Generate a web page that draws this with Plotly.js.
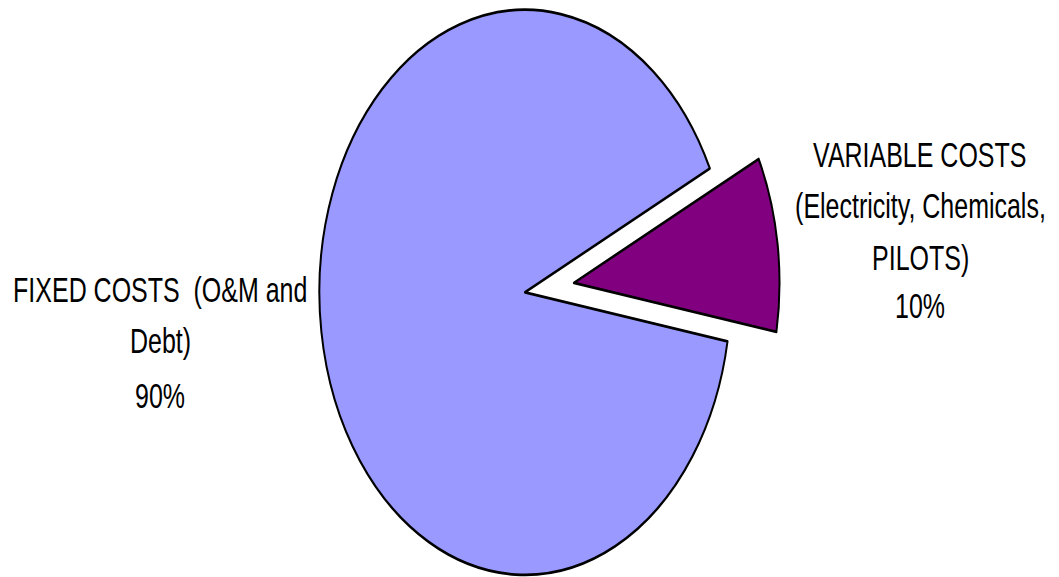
<!DOCTYPE html>
<html>
<head>
<meta charset="utf-8">
<script src="https://cdn.plot.ly/plotly-3.0.1.min.js"></script>
<style>
  html, body { margin:0; padding:0; width:1059px; height:577px; overflow:hidden; background:#ffffff; }
  #wrap { position:absolute; left:0; top:-57.6px; width:1059px; height:510px;
          transform: scaleY(1.3738); transform-origin: 0 0; }
</style>
</head>
<body>
<div id="wrap"></div>
<script>
// ---- data ----
const categories = ["VARIABLE COSTS (Electricity, Chemicals, PILOTS)", "FIXED COSTS (O&M and Debt)"];
const values = [10, 90];
const labelLines = [
  ["VARIABLE COSTS", "(Electricity, Chemicals,", "PILOTS)"],
  ["FIXED COSTS  (O&M and", "Debt)"]
];
const sliceColors = ["#800080", "#9999FF"];
const pulls = [0.24, 0];

// ---- layout helpers (positions of the label blocks, in paper units) ----
const labelX = [0.8688, 0.1511];
const labelY = [
  [0.6965, 0.6238, 0.5496, 0.4796],
  [0.5031, 0.4312, 0.3533]
];

const total = values.reduce((a, b) => a + b, 0);
const annotations = [];
labelLines.forEach((lines, i) => {
  const pct = Math.round(values[i] / total * 100) + "%";
  const all = lines.concat([pct]);
  all.forEach((t, j) => {
    annotations.push({
      xref: "paper", yref: "paper", x: labelX[i], y: labelY[i][j],
      xanchor: "center", yanchor: "middle", showarrow: false, text: t,
      font: {family: "Liberation Sans, Arial, sans-serif", size: 25, color: "#000000"}
    });
  });
});

const trace = {
  type: "pie",
  labels: categories,
  values: values,
  sort: false,
  direction: "clockwise",
  rotation: 64,
  pull: pulls,
  textinfo: "none",
  hoverinfo: "skip",
  marker: {colors: sliceColors, line: {color: "#000000", width: 2}},
  domain: {x: [0.25, 0.7415], y: [0, 1]},
  showlegend: false
};

const layout = {
  width: 1059, height: 510,
  margin: {l: 0, r: 0, t: 0, b: 0, pad: 0},
  paper_bgcolor: "#ffffff",
  plot_bgcolor: "#ffffff",
  showlegend: false,
  annotations: annotations
};

Plotly.newPlot("wrap", [trace], layout, {displayModeBar: false, staticPlot: true});
</script>
</body>
</html>
